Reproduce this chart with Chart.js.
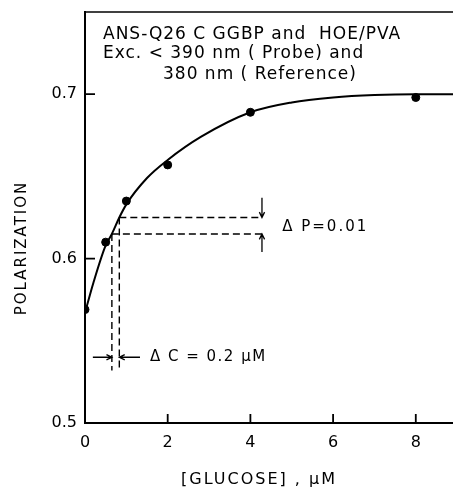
<!DOCTYPE html>
<html>
<head>
<meta charset="utf-8">
<script src="https://cdn.jsdelivr.net/npm/chart.js@4"></script>
<style>
  html, body { margin: 0; padding: 0; background: #fff; }
  #wrap { width: 453px; height: 489px; position: relative; }
</style>
</head>
<body>
<div id="wrap"><canvas id="polChart"></canvas></div>
<script>
// measured points
var glucose = [0, 0.5, 1, 2, 4, 8];
var polarization = [0.569, 0.610, 0.635, 0.657, 0.689, 0.698];

// fitted curve
var curveX = [0, 0.2, 0.5, 0.65, 0.83, 1.0, 1.5, 2.0, 2.8, 4.0, 5.0, 6.0, 7.0, 8.0, 8.9];
var curveY = [0.567, 0.585, 0.608, 0.615, 0.625, 0.633, 0.649, 0.660, 0.674, 0.689, 0.695, 0.698, 0.6995, 0.700, 0.700];

var xTicks = [0, 2, 4, 6, 8];
var yTicks = [0.5, 0.6, 0.7];

// delta P / delta C construction
var deltaP = [0.615, 0.625];
var deltaC = [0.65, 0.83];
var dashRight = 4.28;
var dashBottom = 0.532;

var FONT = '"DejaVu Sans", sans-serif';

function pts(xs, ys) {
    return xs.map(function (x, i) { return { x: x, y: ys[i] }; });
}

var dashStyle = {
    type: 'line', showLine: true, pointRadius: 0,
    borderColor: '#000', borderWidth: 1.4, borderDash: [7, 4], fill: false
};

function arrow(ctx, x1, y1, x2, y2) {
    var a = Math.atan2(y2 - y1, x2 - x1), h = 6;
    ctx.beginPath();
    ctx.moveTo(x1, y1); ctx.lineTo(x2, y2);
    ctx.moveTo(x2 - h * Math.cos(a - 0.45), y2 - h * Math.sin(a - 0.45));
    ctx.lineTo(x2, y2);
    ctx.lineTo(x2 - h * Math.cos(a + 0.45), y2 - h * Math.sin(a + 0.45));
    ctx.stroke();
}

var extras = {
    id: 'extras',
    afterDraw: function (chart) {
        var ctx = chart.ctx, xs = chart.scales.x, ys = chart.scales.y, ca = chart.chartArea;
        ctx.save();
        ctx.strokeStyle = '#000';
        ctx.fillStyle = '#000';

        // top frame line
        ctx.lineWidth = 1.5;
        ctx.beginPath(); ctx.moveTo(ca.left, ca.top); ctx.lineTo(ca.right, ca.top); ctx.stroke();

        // inward tick marks
        ctx.lineWidth = 1.8;
        ctx.beginPath();
        yTicks.slice(1).forEach(function (v) {
            var y = ys.getPixelForValue(v);
            ctx.moveTo(ca.left, y); ctx.lineTo(ca.left + 10, y);
        });
        xTicks.slice(1).forEach(function (v) {
            var x = xs.getPixelForValue(v);
            ctx.moveTo(x, ca.bottom); ctx.lineTo(x, ca.bottom - 9);
        });
        ctx.stroke();

        // arrows
        ctx.lineWidth = 1.3;
        var ax = xs.getPixelForValue(dashRight);
        arrow(ctx, ax, ys.getPixelForValue(0.637), ax, ys.getPixelForValue(deltaP[1]));
        arrow(ctx, ax, ys.getPixelForValue(0.604), ax, ys.getPixelForValue(deltaP[0]));
        var ay = ys.getPixelForValue(0.540);
        arrow(ctx, xs.getPixelForValue(0.19), ay, xs.getPixelForValue(deltaC[0]), ay);
        arrow(ctx, xs.getPixelForValue(1.33), ay, xs.getPixelForValue(deltaC[1]), ay);

        // annotations
        ctx.textBaseline = 'middle';
        ctx.textAlign = 'left';
        ctx.font = '17px ' + FONT;
        ctx.letterSpacing = '1px';
        ctx.fillText('ANS-Q26 C GGBP and  HOE/PVA', 103, 35);
        ctx.fillText('Exc. < 390 nm ( Probe) and', 103, 54);
        ctx.fillText('380 nm ( Reference)', 163, 75);
        ctx.font = '15px ' + FONT;
        ctx.letterSpacing = '2px';
        ctx.fillText('Δ P=0.01', xs.getPixelForValue(4.77), ys.getPixelForValue(0.619));
        ctx.letterSpacing = '1.5px';
        ctx.fillText('Δ C = 0.2 μM', xs.getPixelForValue(1.57), ay);

        // axis titles
        ctx.textAlign = 'center';
        ctx.font = '16px ' + FONT;
        ctx.letterSpacing = '2px';
        ctx.fillText('[GLUCOSE] , μM', 259, 480);
        ctx.font = '15px ' + FONT;
        ctx.translate(22, 248);
        ctx.rotate(-Math.PI / 2);
        ctx.fillText('POLARIZATION', 0, 0);
        ctx.restore();
    }
};

var ctx = document.getElementById('polChart').getContext('2d');
var myChart = new Chart(ctx, {
    type: 'scatter',
    data: {
        datasets: [
            {
                data: pts(glucose, polarization),
                backgroundColor: '#000', borderColor: '#000',
                pointRadius: 4, pointHoverRadius: 4
            },
            {
                type: 'line', data: pts(curveX, curveY), showLine: true,
                pointRadius: 0, borderColor: '#000', borderWidth: 2,
                cubicInterpolationMode: 'monotone', fill: false
            },
            Object.assign({ data: [{ x: deltaC[1], y: deltaP[1] }, { x: dashRight, y: deltaP[1] }] }, dashStyle),
            Object.assign({ data: [{ x: deltaC[0], y: deltaP[0] }, { x: dashRight, y: deltaP[0] }] }, dashStyle),
            Object.assign({ data: [{ x: deltaC[0], y: deltaP[0] }, { x: deltaC[0], y: dashBottom }] }, dashStyle),
            Object.assign({ data: [{ x: deltaC[1], y: deltaP[1] }, { x: deltaC[1], y: dashBottom }] }, dashStyle)
        ]
    },
    options: {
        responsive: true,
        maintainAspectRatio: false,
        animation: false,
        layout: { autoPadding: false, padding: { top: 12, left: 0, right: 0, bottom: 0 } },
        plugins: { legend: { display: false }, tooltip: { enabled: false } },
        scales: {
            x: {
                type: 'linear', min: 0, max: 8.9,
                afterBuildTicks: function (s) { s.ticks = xTicks.map(function (v) { return { value: v }; }); },
                afterFit: function (s) { s.height = 66; s.paddingLeft = 0; s.paddingRight = 0; },
                grid: { display: false, drawTicks: false },
                border: { color: '#000', width: 2 },
                ticks: { color: '#000', padding: 10, font: { family: FONT, size: 16 } }
            },
            y: {
                min: 0.5, max: 0.75,
                afterBuildTicks: function (s) { s.ticks = yTicks.map(function (v) { return { value: v }; }); },
                afterFit: function (s) { s.width = 85; s.paddingTop = 0; s.paddingBottom = 0; },
                grid: { display: false, drawTicks: false },
                border: { color: '#000', width: 2 },
                ticks: {
                    color: '#000', padding: 8, font: { family: FONT, size: 16 },
                    callback: function (v) { return v.toFixed(1); }
                }
            }
        }
    },
    plugins: [extras]
});
</script>
</body>
</html>
